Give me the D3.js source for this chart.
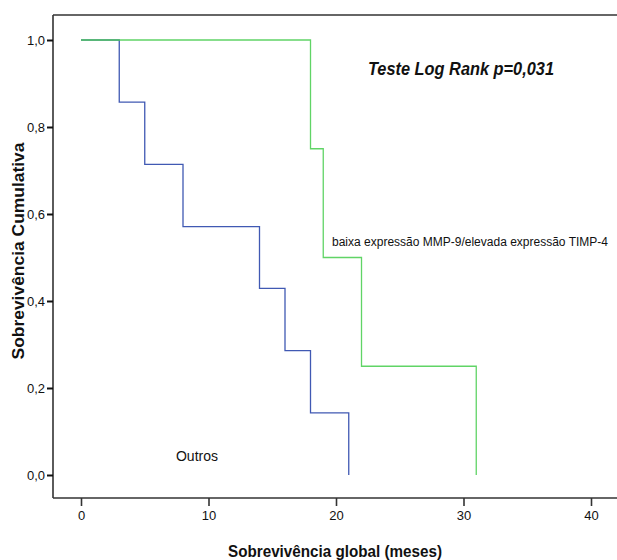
<!DOCTYPE html>
<html>
<head>
<meta charset="utf-8">
<script src="https://cdn.jsdelivr.net/npm/d3@7"></script>
<style>
  html, body { margin: 0; padding: 0; background: #fff; }
  svg { display: block; }
  text { font-family: "Liberation Sans Narrow", "Arial Narrow", "Liberation Sans", Arial, sans-serif; fill: #111; }
</style>
</head>
<body>
<svg id="chart" width="617" height="560"></svg>
<script>
// Kaplan–Meier survival steps (months, cumulative survival)
const outrosTimes = [0, 3, 5, 8, 14, 16, 18, 21];
const outrosSurv  = [1, 0.857, 0.714, 0.571, 0.429, 0.286, 0.143, 0];
const baixaTimes  = [0, 18, 19, 22, 31];
const baixaSurv   = [1, 0.75, 0.5, 0.25, 0];

const xTicks = [0, 10, 20, 30, 40];
const yTicks = [0, 0.2, 0.4, 0.6, 0.8, 1.0];

const labelOutros = "Outros";
const labelBaixa = "baixa expressão MMP-9/elevada expressão TIMP-4";
const statText = "Teste Log Rank p=0,031";
const xTitle = "Sobrevivência global (meses)";
const yTitle = "Sobrevivência Cumulativa";

const svg = d3.select("#chart");

const frame = { left: 53, top: 15, right: 617, bottom: 498 };
const x = d3.scaleLinear().domain([0, 40]).range([81, 591]);
const y = d3.scaleLinear().domain([0, 1]).range([475, 40]);

const comma = v => d3.format(".1f")(v).replace(".", ",");

// frame lines (left, top, bottom)
const axisColor = "#333";
svg.append("line").attr("x1", frame.left).attr("x2", frame.right)
  .attr("y1", frame.top).attr("y2", frame.top)
  .attr("stroke", axisColor).attr("stroke-width", 1.6);
svg.append("line").attr("x1", frame.left).attr("x2", frame.right)
  .attr("y1", frame.bottom).attr("y2", frame.bottom)
  .attr("stroke", axisColor).attr("stroke-width", 1.6);
svg.append("line").attr("x1", frame.left).attr("x2", frame.left)
  .attr("y1", frame.top).attr("y2", frame.bottom)
  .attr("stroke", axisColor).attr("stroke-width", 1.6);

// x axis
const gx = svg.append("g").attr("transform", `translate(0,${frame.bottom})`)
  .call(d3.axisBottom(x).tickValues(xTicks).tickSize(8).tickPadding(5).tickFormat(d3.format("d")));
gx.select(".domain").remove();
gx.selectAll(".tick line").attr("stroke", axisColor).attr("stroke-width", 1.6);
gx.selectAll(".tick text").attr("font-size", 13).attr("fill", "#111");

// y axis
const gy = svg.append("g").attr("transform", `translate(${frame.left},0)`)
  .call(d3.axisLeft(y).tickValues(yTicks).tickSize(6).tickPadding(2).tickFormat(comma));
gy.select(".domain").remove();
gy.selectAll(".tick line").attr("stroke", "#111").attr("stroke-width", 2);
gy.selectAll(".tick text").attr("font-size", 13).attr("fill", "#111");

// survival curves
const step = d3.line().x(d => x(d[0])).y(d => y(d[1])).curve(d3.curveStepAfter);
const outros = outrosTimes.map((t, i) => [t, outrosSurv[i]]);
const baixa = baixaTimes.map((t, i) => [t, baixaSurv[i]]);

svg.append("path").datum(outros).attr("d", step)
  .attr("fill", "none").attr("stroke", "#4059b3").attr("stroke-width", 1.3);
svg.append("path").datum(baixa).attr("d", step)
  .attr("fill", "none").attr("stroke", "#4fcf55").attr("stroke-width", 1.3)
  .attr("stroke-opacity", 0.9);

// annotations
svg.append("text").attr("x", 197).attr("y", 461).attr("text-anchor", "middle")
  .attr("font-size", 14).text(labelOutros);
svg.append("text").attr("x", 332).attr("y", 246)
  .attr("font-size", 12).attr("textLength", 276).attr("lengthAdjust", "spacingAndGlyphs")
  .text(labelBaixa);
svg.append("text").attr("x", 368).attr("y", 75)
  .attr("font-size", 18).attr("font-weight", "bold").attr("font-style", "italic")
  .attr("textLength", 186).attr("lengthAdjust", "spacingAndGlyphs")
  .text(statText);

// axis titles
svg.append("text").attr("x", 335).attr("y", 557).attr("text-anchor", "middle")
  .attr("font-family", "Liberation Sans, Arial, sans-serif")
  .attr("font-size", 16).attr("font-weight", "bold")
  .attr("textLength", 214).attr("lengthAdjust", "spacingAndGlyphs")
  .text(xTitle);
svg.append("text").attr("transform", "translate(24,251) rotate(-90)")
  .attr("text-anchor", "middle")
  .attr("font-family", "Liberation Sans, Arial, sans-serif")
  .attr("font-size", 16).attr("font-weight", "bold")
  .attr("textLength", 217).attr("lengthAdjust", "spacingAndGlyphs")
  .text(yTitle);
</script>
</body>
</html>
